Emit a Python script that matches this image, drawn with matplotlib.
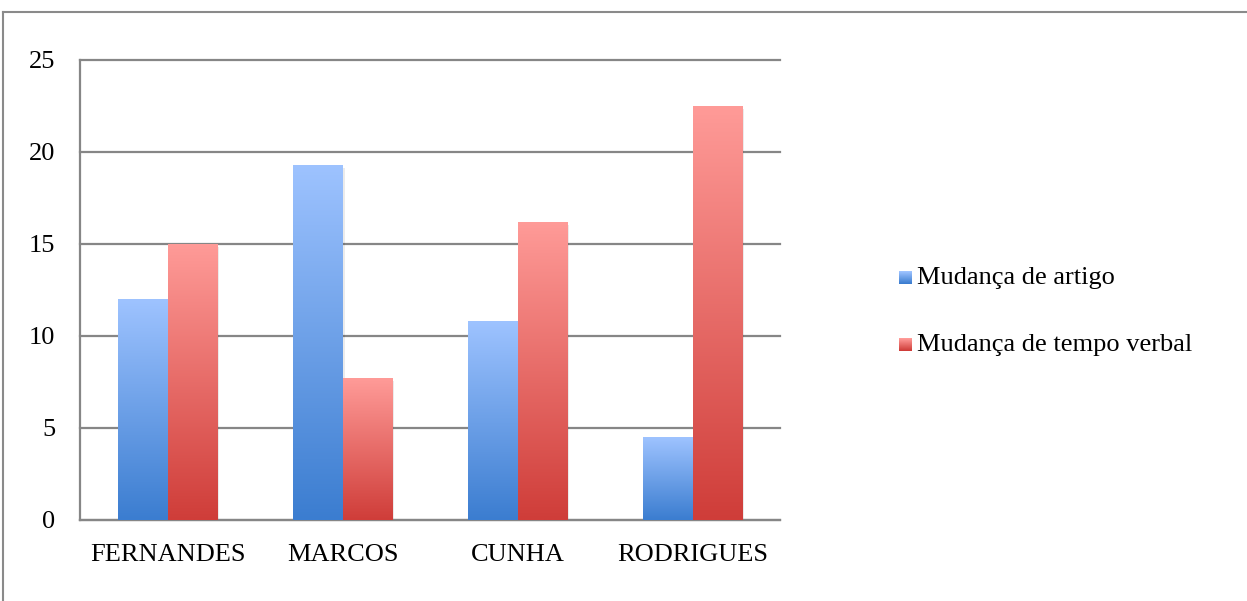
import matplotlib.pyplot as plt
import numpy as np
from matplotlib.colors import LinearSegmentedColormap
from matplotlib.lines import Line2D

categories = ['FERNANDES', 'MARCOS', 'CUNHA', 'RODRIGUES']
artigo = [12.0, 19.3, 10.8, 4.5]
tempo_verbal = [15.0, 7.7, 16.2, 22.5]
series_names = ['Mudança de artigo', 'Mudança de tempo verbal']
yticks = [0, 5, 10, 15, 20, 25]

plt.rcParams['font.family'] = ['Liberation Serif', 'DejaVu Serif']

blue_cmap = LinearSegmentedColormap.from_list('b', ['#3b7dd0', '#9ec3ff'])
red_cmap = LinearSegmentedColormap.from_list('r', ['#cf3d39', '#ff9b98'])

fig = plt.figure(figsize=(12.47, 6.01), dpi=100)
ax = fig.add_axes([80 / 1247, 81 / 601, 700 / 1247, 460 / 601])

grad = np.linspace(0, 1, 256).reshape(-1, 1)
width = 0.285
x = np.arange(len(categories))


def gradient_bars(xpos, values, cmap):
    bars = ax.bar(xpos, values, width, color='none', edgecolor='none', zorder=3)
    for b in bars:
        x0, w, h = b.get_x(), b.get_width(), b.get_height()
        # soft shadow
        ax.bar(x0 + w / 2 + 0.012, h, w, bottom=-0.15, color='#000000', alpha=0.08,
               edgecolor='none', zorder=2.5)
        im = ax.imshow(grad, cmap=cmap, origin='lower', aspect='auto',
                       extent=[x0, x0 + w, 0, h], zorder=3)
        im.set_clip_path(b)
    return bars


gradient_bars(x - width / 2, artigo, blue_cmap)
gradient_bars(x + width / 2, tempo_verbal, red_cmap)

ax.set_xlim(-0.5, 3.5)
ax.set_ylim(0, 25)
ax.set_yticks(yticks)
ax.set_xticks(x)
ax.set_xticklabels(categories)
ax.yaxis.grid(True, color='#868686', linewidth=1.6, zorder=1)
ax.set_axisbelow(True)
for gl in ax.get_ygridlines():
    gl.set_clip_on(False)
for s in ['top', 'right']:
    ax.spines[s].set_visible(False)
for s in ['left', 'bottom']:
    ax.spines[s].set_color('#868686')
    ax.spines[s].set_linewidth(1.6)
ax.tick_params(axis='both', length=0, labelsize=19, colors='black')
ax.tick_params(axis='x', pad=17)
ax.tick_params(axis='y', pad=18)

# legend with gradient swatches
sw = 13
for i, (name, cmap) in enumerate([(series_names[0], blue_cmap), (series_names[1], red_cmap)]):
    ycen = 278 + i * 67
    sq = cmap(np.linspace(1, 0, sw))[:, None, :].repeat(sw, axis=1)
    fig.figimage(sq, xo=899, yo=601 - ycen - sw // 2, origin='upper', zorder=5)
    fig.text(917 / 1247, 1 - ycen / 601, name, fontsize=19, va='center', ha='left')

# outer frame
fig.add_artist(Line2D([3 / 1247, 1], [1 - 12 / 601, 1 - 12 / 601], color='#8a8a8a',
                      linewidth=1.5, transform=fig.transFigure))
fig.add_artist(Line2D([3 / 1247, 3 / 1247], [0, 1 - 12 / 601], color='#8a8a8a',
                      linewidth=1.5, transform=fig.transFigure))

fig.savefig('out.png', dpi=100)
